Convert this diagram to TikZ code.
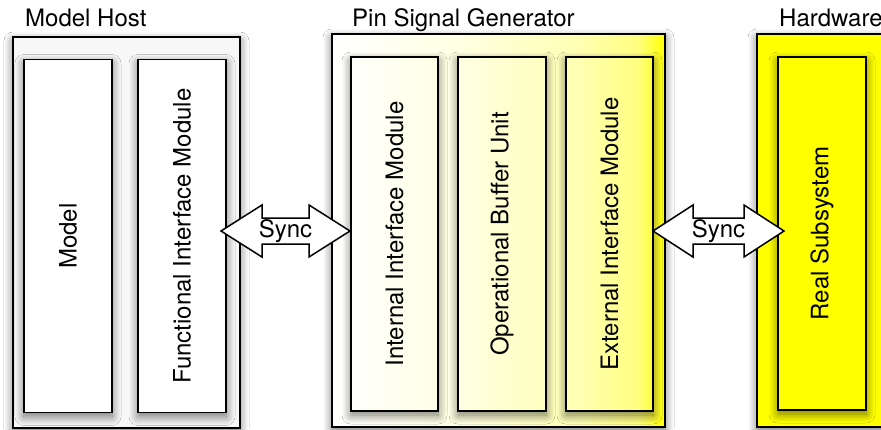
\documentclass[tikz,border=0pt]{standalone}
\usepackage{fontspec}
\setmainfont{TeX Gyre Heros}
\usetikzlibrary{shadows.blur,calc}

\definecolor{hwyellow}{RGB}{255,255,0}
\definecolor{paper}{RGB}{255,255,255}
% white on the left, pale yellow through the middle, full yellow at the right edge
\pgfdeclarehorizontalshading{psgfade}{100bp}{color(0bp)=(paper); color(25bp)=(paper); color(45bp)=(hwyellow!12!paper); color(62bp)=(hwyellow!30!paper); color(71bp)=(hwyellow!50!paper); color(75bp)=(hwyellow); color(100bp)=(hwyellow)}

\tikzset{
  box/.style={draw=black, line width=1.5pt, rectangle, inner sep=0pt, outer sep=0pt},
  softshadow/.style={blur shadow={shadow xshift=0pt, shadow yshift=-4pt,
      shadow blur radius=9pt, shadow opacity=55, shadow blur steps=12}},
  group/.style={box, softshadow},
  module/.style={box, softshadow, minimum width=88pt, minimum height=353pt},
  title/.style={anchor=base west, inner sep=0pt, font=\fontsize{24}{28}\selectfont},
  modlabel/.style={font=\fontsize{24}{28}\selectfont},
  syncarrow/.style={draw=black, line width=1.5pt, fill=white, line join=miter},
  synclabel/.style={inner sep=0pt, font=\fontsize{24}{28}\selectfont},
}

\begin{document}
\begin{tikzpicture}[x=1pt, y=-1pt]
  \useasboundingbox (0,0) rectangle (881,429);
  \clip (0,0) rectangle (881,429);
  \fill[white] (0,0) rectangle (881,429);

  % ---- group frames ----
  \node[group, fill=gray!6, minimum width=227pt, minimum height=391pt] (mh) at (126.5,232.5) {};
  \node[group, shading=psgfade, minimum width=333pt, minimum height=393pt] (psg) at (498.5,230.5) {};
  \node[group, fill=hwyellow, minimum width=150pt, minimum height=393pt] (hw) at (832,230.5) {};

  % ---- group titles ----
  \node[title] (mhtitle) at (25,26) {Model Host};
  \node[title] (psgtitle) at (352,26) {Pin Signal Generator};
  \node[title] (hwtitle) at (779,26) {Hardware};

  % ---- Model Host modules ----
  \node[module, fill=white, modlabel] (model) at (68,236) {\rotatebox{90}{Model}};
  \node[module, fill=white, modlabel] (fim) at (182,236) {\rotatebox{90}{Functional Interface Module}};

  % ---- Pin Signal Generator modules (see-through to the frame's fade) ----
  \tikzset{psginner/.style={module, minimum width=87pt, minimum height=354pt,
      path picture={\shade[shading=psgfade] (psg.north west) rectangle (psg.south east);}}}
  \node[psginner, modlabel] (iim) at (394.5,234) {\rotatebox{90}{Internal Interface Module}};
  \node[psginner, modlabel, minimum width=88pt] (obu) at (502,234) {\rotatebox{90}{Operational Buffer Unit}};
  \node[psginner, modlabel] (eim) at (609.5,234) {\rotatebox{90}{External Interface Module}};

  % ---- Hardware module ----
  \node[module, fill=hwyellow, modlabel] (rs) at (822,233.5) {\rotatebox{90}{Real Subsystem}};

  % ---- Sync double arrows ----
  \coordinate (c1) at (285.5,231);
  \draw[syncarrow] ($(c1)+(-64.5,0)$) -- ++(41,-26) -- ++(0,13) -- ++(47,0) -- ++(0,-13)
        -- ++(41,26) -- ++(-41,26) -- ++(0,-13) -- ++(-47,0) -- ++(0,13) -- cycle;
  \node[synclabel] (sync1) at (c1) {Sync};

  \coordinate (c2) at (718.5,231);
  \draw[syncarrow] ($(c2)+(-65.5,0)$) -- ++(40,-26) -- ++(0,13) -- ++(51,0) -- ++(0,-13)
        -- ++(40,26) -- ++(-40,26) -- ++(0,-13) -- ++(-51,0) -- ++(0,13) -- cycle;
  \node[synclabel] (sync2) at (c2) {Sync};
\end{tikzpicture}
\end{document}
